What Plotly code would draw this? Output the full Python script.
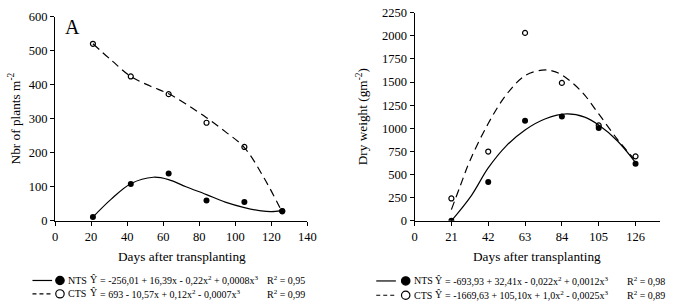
import plotly.graph_objects as go

W, H = 675, 308

# ---- data ----
days = [21, 42, 63, 84, 105, 126]
plants_nts = [11, 108, 139, 60, 55, 29]
plants_cts = [520, 424, 372, 288, 217, 28]
dry_nts = [0, 421, 1083, 1128, 1004, 618]
dry_cts = [242, 749, 2032, 1491, 1032, 697]

# fitted (regression) curves
fit_pl_nts_x = [21, 31, 42, 54.5, 63, 72.6, 84, 94.4, 105, 114.4, 120, 125.5]
fit_pl_nts_y = [11, 63, 109, 128, 121, 100, 77, 55, 39, 29, 27, 30]
fit_pl_cts_x = [21, 31.8, 42, 52.7, 63, 72.6, 84, 94.4, 105, 116, 125.5]
fit_pl_cts_y = [520, 469, 424, 396, 373, 343, 303, 262, 215, 125, 30]
fit_dw_nts_x = [21, 32.5, 42, 52.3, 63, 74.7, 86.8, 97, 105, 115.7, 126]
fit_dw_nts_y = [0, 276, 572, 811, 983, 1104, 1156, 1121, 1035, 863, 630]
fit_dw_cts_x = [21, 26.1, 31.7, 42, 52.3, 63, 72.8, 78.4, 84, 95.2, 105, 115.7, 125]
fit_dw_cts_y = [121, 380, 656, 1052, 1363, 1570, 1629, 1622, 1577, 1398, 1156, 880, 673]

left_xticks = [0, 20, 40, 60, 80, 100, 120, 140]
right_xticks = [0, 21, 42, 63, 84, 105, 126]
left_yticks = [0, 100, 200, 300, 400, 500, 600]
right_yticks = [0, 250, 500, 750, 1000, 1250, 1500, 1750, 2000, 2250]

FONT = "Liberation Serif, Times New Roman, DejaVu Serif, serif"
DASH = "8px,5px"

fig = go.Figure()

def px2x(px):
    return px / W

def px2y(py):
    return 1 - py / H

# left panel
fig.add_trace(go.Scatter(x=fit_pl_nts_x, y=fit_pl_nts_y, mode="lines", line=dict(color="black", width=1.2, shape="spline"),
                         xaxis="x", yaxis="y", showlegend=False, hoverinfo="skip"))
fig.add_trace(go.Scatter(x=fit_pl_cts_x, y=fit_pl_cts_y, mode="lines", line=dict(color="black", width=1.2, dash=DASH, shape="spline"),
                         xaxis="x", yaxis="y", showlegend=False, hoverinfo="skip"))
fig.add_trace(go.Scatter(x=days, y=plants_cts, mode="markers", marker=dict(symbol="circle-open", size=5, color="black", line=dict(width=1.2)),
                         xaxis="x", yaxis="y", showlegend=False))
fig.add_trace(go.Scatter(x=days, y=plants_nts, mode="markers", marker=dict(symbol="circle", size=6, color="black"),
                         xaxis="x", yaxis="y", showlegend=False))

# right panel
fig.add_trace(go.Scatter(x=fit_dw_nts_x, y=fit_dw_nts_y, mode="lines", line=dict(color="black", width=1.2, shape="spline"),
                         xaxis="x2", yaxis="y2", showlegend=False, hoverinfo="skip"))
fig.add_trace(go.Scatter(x=fit_dw_cts_x, y=fit_dw_cts_y, mode="lines", line=dict(color="black", width=1.2, dash=DASH, shape="spline"),
                         xaxis="x2", yaxis="y2", showlegend=False, hoverinfo="skip"))
fig.add_trace(go.Scatter(x=days, y=dry_cts, mode="markers", marker=dict(symbol="circle-open", size=5, color="black", line=dict(width=1.2)),
                         xaxis="x2", yaxis="y2", showlegend=False))
fig.add_trace(go.Scatter(x=days, y=dry_nts, mode="markers", marker=dict(symbol="circle", size=6, color="black"),
                         xaxis="x2", yaxis="y2", showlegend=False))

axis_common = dict(showline=True, linecolor="black", linewidth=1, showgrid=False, zeroline=False,
                   ticks="outside", ticklen=4, tickwidth=1, tickcolor="black",
                   tickfont=dict(family=FONT, size=12.5, color="black"))

fig.update_layout(
    width=W, height=H,
    margin=dict(l=0, r=0, t=0, b=0),
    paper_bgcolor="white", plot_bgcolor="white",
    font=dict(family=FONT, color="black"),
    xaxis=dict(axis_common, domain=[px2x(53), px2x(310)], range=[0, 140], tickvals=left_xticks, anchor="y"),
    yaxis=dict(axis_common, domain=[px2y(224), px2y(10)], range=[0, 600], tickvals=left_yticks, anchor="x"),
    xaxis2=dict(axis_common, domain=[px2x(419), px2x(669)], range=[0, 140], tickvals=right_xticks, anchor="y2"),
    yaxis2=dict(axis_common, domain=[px2y(224), px2y(6)], range=[0, 2250], tickvals=right_yticks, anchor="x2"),
)

ann = []
def text(px, py, s, size, xanchor="center", angle=0):
    ann.append(dict(x=px2x(px), y=px2y(py), xref="paper", yref="paper", text=s, showarrow=False,
                    xanchor=xanchor, yanchor="middle", textangle=angle,
                    font=dict(family=FONT, size=size, color="black")))

# axis titles
text(182, 261, "Days after transplanting", 13.3)
text(544, 261, "Days after transplanting", 13.3)
text(12, 117, "Nbr of plants m<sup>-2</sup>", 13.3, angle=-90)
text(366, 115, "Dry weight (gm<sup>-2</sup>)", 13.3, angle=-90)
text(71, 21, "A", 20)

shapes = []
def legend_row(x0, x1, cx, py, dashed, filled, label, yhat_x, eq_x, eq, r_x, r2):
    shapes.append(dict(type="line", xref="paper", yref="paper", x0=px2x(x0), x1=px2x(x1), y0=px2y(py), y1=px2y(py),
                       line=dict(color="black", width=1.2, dash=("4px,3px" if dashed else "solid"))))
    rr = 4.3
    shapes.append(dict(type="circle", xref="paper", yref="paper", x0=px2x(cx - rr), x1=px2x(cx + rr),
                       y0=px2y(py + rr), y1=px2y(py - rr),
                       fillcolor=("black" if filled else "white"), line=dict(color="black", width=1.2)))
    text(cx + 6, py, label, 10, xanchor="left")
    text(yhat_x, py - 1, "Ŷ", 10, xanchor="left")
    text(eq_x, py, eq, 10, xanchor="left")
    text(r_x, py, r2, 10, xanchor="left")

legend_row(30, 50, 58, 286.5, False, True, "NTS", 87, 97,
           "= -256,01 + 16,39x - 0,22x<sup>2</sup> + 0,0008x<sup>3</sup>", 267, "R<sup>2</sup> = 0,95")
legend_row(30, 50, 58, 300.5, True, False, "CTS", 87, 97,
           "= 693 - 10,57x + 0,12x<sup>2</sup> - 0,0007x<sup>3</sup>", 267, "R<sup>2</sup> = 0,99")
legend_row(380, 400, 410, 287, False, True, "NTS", 438, 448,
           "= -693,93 + 32,41x - 0,022x<sup>2</sup> + 0,0012x<sup>3</sup>", 633, "R<sup>2</sup> = 0,98")
legend_row(380, 400, 410, 302, True, False, "CTS", 438, 448,
           "= -1669,63 + 105,10x + 1,0x<sup>2</sup> - 0,0025x<sup>3</sup>", 633, "R<sup>2</sup> = 0,89")

fig.update_layout(annotations=ann, shapes=shapes)
fig.write_html("out.html")
